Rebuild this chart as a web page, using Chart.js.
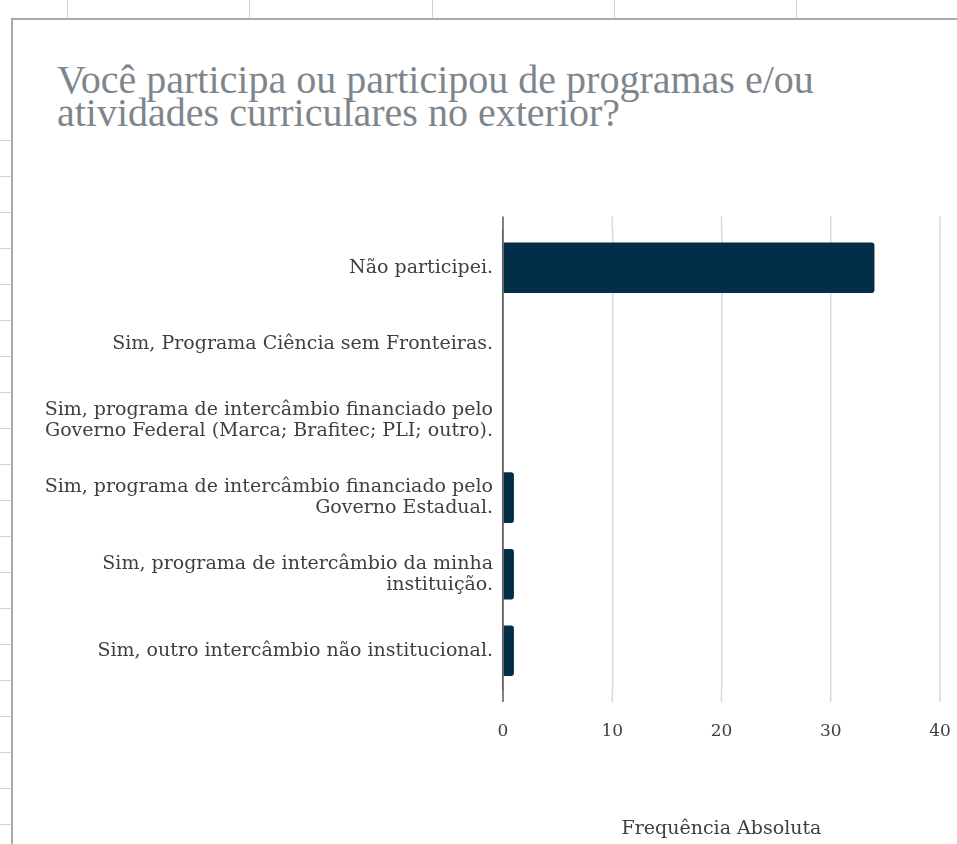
<!DOCTYPE html>
<html>
<head>
<meta charset="utf-8">
<script src="https://cdn.jsdelivr.net/npm/chart.js@4.4.1/dist/chart.umd.min.js"></script>
<style>
  html, body { margin: 0; padding: 0; background: #ffffff; }
  body { width: 957px; height: 844px; position: relative; overflow: hidden; }
  .topTicks {
    position: absolute; left: 67px; top: 0; width: 890px; height: 19px;
    background: repeating-linear-gradient(to right, #d2d2d2 0 1px, transparent 1px 182.3px);
  }
  .leftTicks {
    position: absolute; left: 0; top: 140px; width: 11px; height: 704px;
    background: repeating-linear-gradient(to bottom, #d2d2d2 0 1px, transparent 1px 36px);
  }
  .frame {
    position: absolute; left: 11px; top: 18px; width: 946px; height: 826px;
    border-left: 2px solid #a9a9a9; border-top: 2px solid #a9a9a9; box-sizing: border-box;
  }
  #title {
    position: absolute; left: 57px; top: 63px; margin: 0;
    font-family: 'Liberation Serif', serif; font-size: 40px; font-weight: normal;
    line-height: 33px; color: #7e868d; white-space: nowrap;
  }
  #wrap { position: absolute; left: 13px; top: 20px; width: 944px; height: 824px; }
</style>
</head>
<body>
<div class="topTicks"></div>
<div class="leftTicks"></div>
<div class="frame"></div>
<h1 id="title"></h1>
<div id="wrap"><canvas id="chart"></canvas></div>
<script>
// data
const titleLines = ['Você participa ou participou de programas e/ou', 'atividades curriculares no exterior?'];
const categories = [
  'Não participei.',
  'Sim, Programa Ciência sem Fronteiras.',
  ['Sim, programa de intercâmbio financiado pelo', 'Governo Federal (Marca; Brafitec; PLI; outro).'],
  ['Sim, programa de intercâmbio financiado pelo', 'Governo Estadual.'],
  ['Sim, programa de intercâmbio da minha', 'instituição.'],
  'Sim, outro intercâmbio não institucional.'
];
const frequencies = [34, 0, 0, 1, 1, 1];
const xTicks = [0, 10, 20, 30, 40];
const xTitle = 'Frequência Absoluta';

document.getElementById('title').innerHTML = titleLines.join('<br>');

const serif = "'DejaVu Serif', 'Liberation Serif', serif";
const barColor = '#032e48';
const gridColor = '#d9d9d9';
const axisColor = '#5a5a5a';
const textColor = '#3f3f3f';

// Excel draws the gridlines a bit past the bars band, extend them
const extendGrid = {
  id: 'extendGrid',
  afterDraw(chart) {
    const ctx = chart.ctx;
    const area = chart.chartArea;
    const x = chart.scales.x;
    const ext = 13;
    ctx.save();
    xTicks.forEach(t => {
      const px = x.getPixelForValue(t);
      ctx.beginPath();
      ctx.lineWidth = 1.5;
      ctx.strokeStyle = t === 0 ? axisColor : gridColor;
      ctx.moveTo(px, area.top - ext);
      ctx.lineTo(px, area.top);
      ctx.moveTo(px, area.bottom);
      ctx.lineTo(px, area.bottom + ext);
      ctx.stroke();
    });
    ctx.restore();
  }
};

new Chart(document.getElementById('chart'), {
  type: 'bar',
  data: {
    labels: categories,
    datasets: [{
      data: frequencies,
      backgroundColor: barColor,
      borderWidth: 0,
      borderRadius: 3,
      borderSkipped: 'start',
      barPercentage: 0.66,
      categoryPercentage: 1
    }]
  },
  options: {
    indexAxis: 'y',
    responsive: true,
    maintainAspectRatio: false,
    animation: false,
    layout: { padding: { left: 30, right: 17, top: 209.5, bottom: 0 } },
    plugins: {
      legend: { display: false },
      tooltip: { enabled: false },
      title: { display: false }
    },
    scales: {
      x: {
        min: 0,
        max: 40,
        ticks: {
          stepSize: 10,
          padding: 0,
          color: textColor,
          font: { family: serif, size: 17 }
        },
        grid: {
          color: ctx => ctx.tick && ctx.tick.value === 0 ? axisColor : gridColor,
          lineWidth: 1.5,
          drawTicks: true,
          tickLength: 32,
          tickColor: 'transparent'
        },
        border: { display: false },
        title: {
          display: true,
          text: xTitle,
          color: textColor,
          font: { family: serif, size: 19 },
          padding: { top: 75.7, bottom: 4 }
        }
      },
      y: {
        afterFit(scale) { scale.width = 460; },
        ticks: {
          padding: 10,
          color: textColor,
          font: { family: serif, size: 19, lineHeight: 1.1 }
        },
        grid: { display: false, drawTicks: false },
        border: { display: true, color: axisColor, width: 1.5 }
      }
    }
  },
  plugins: [extendGrid]
});
</script>
</body>
</html>
